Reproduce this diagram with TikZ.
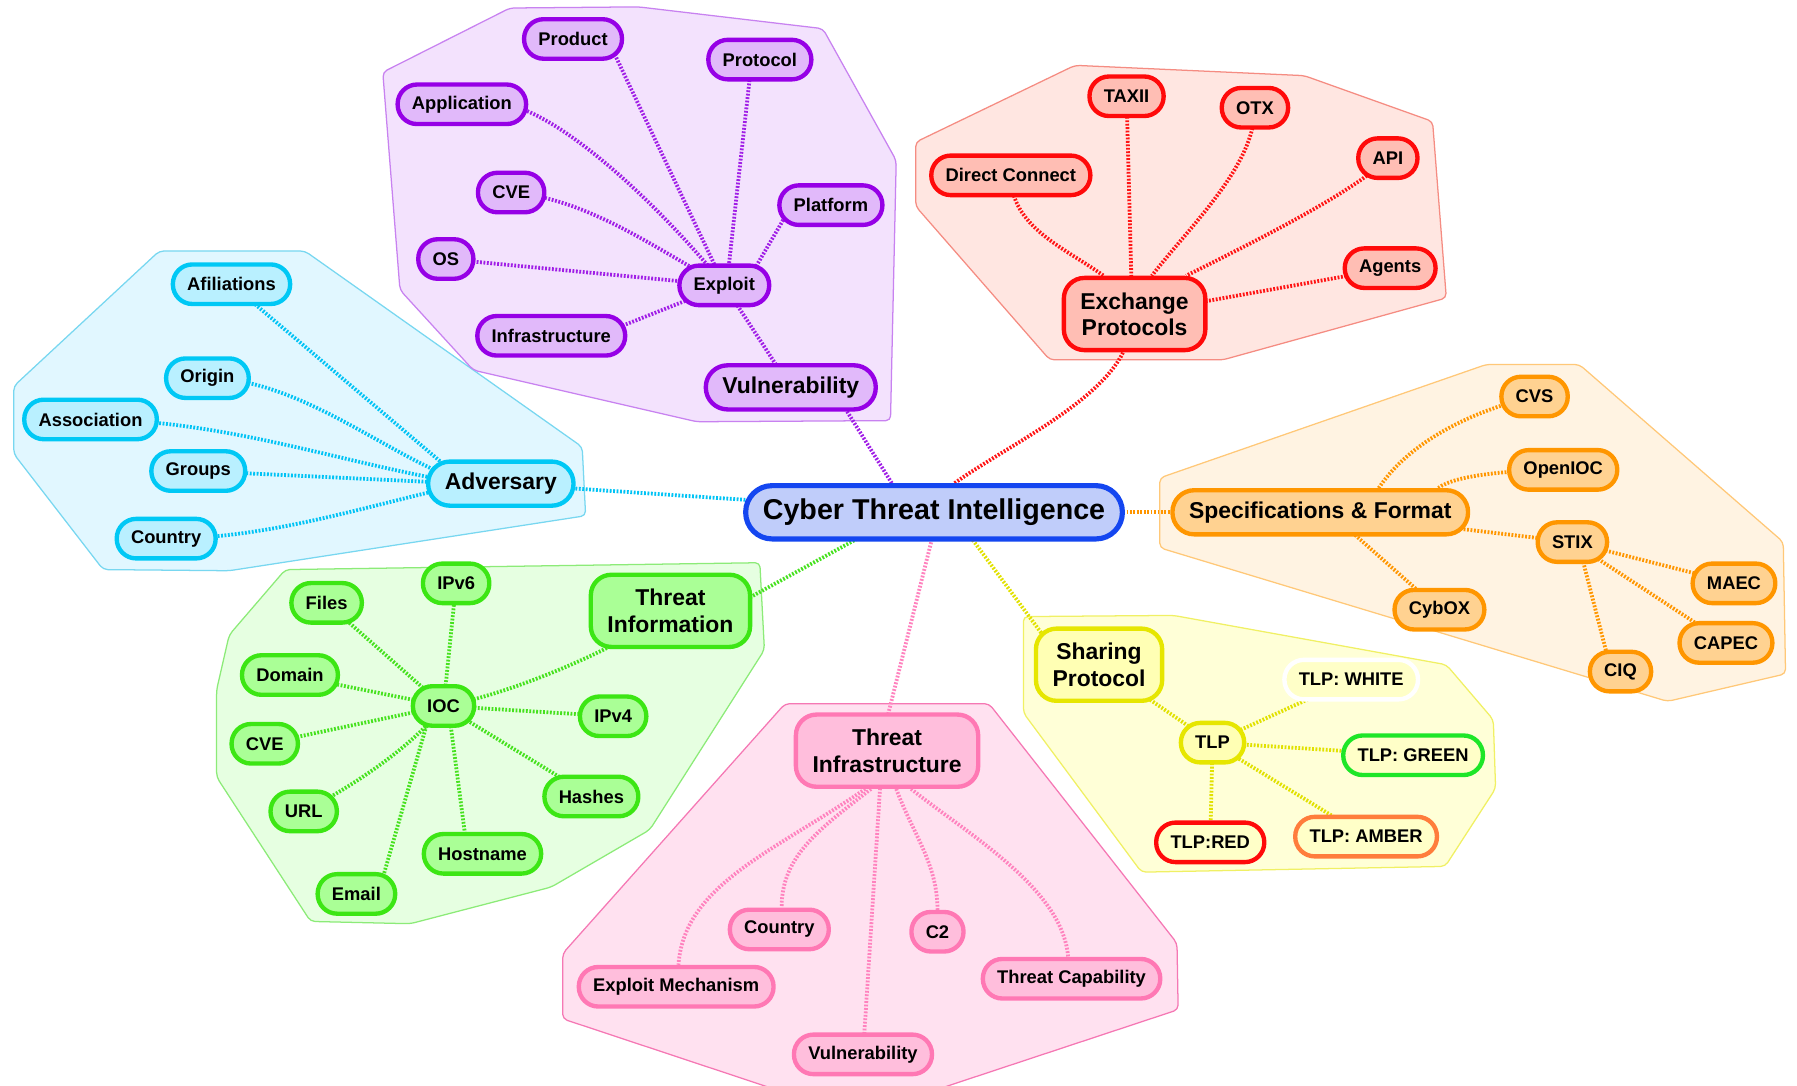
\documentclass[tikz,border=0pt]{standalone}
\usepackage{fontspec}
\setmainfont{Liberation Sans}
\usetikzlibrary{calc}
\pgfdeclarelayer{hull}
\pgfdeclarelayer{edges}
\pgfsetlayers{hull,edges,main}
% node fills / borders / hulls / edges
\definecolor{ctF}{RGB}{192,205,250}\definecolor{ctD}{RGB}{20,70,240}
\definecolor{cyF}{RGB}{185,240,255}\definecolor{cyD}{RGB}{0,200,245}\definecolor{cyH}{RGB}{225,247,255}\definecolor{cyL}{RGB}{120,215,240}\definecolor{cyE}{RGB}{0,195,245}
\definecolor{puF}{RGB}{225,185,250}\definecolor{puD}{RGB}{150,0,230}\definecolor{puH}{RGB}{243,226,253}\definecolor{puL}{RGB}{200,130,240}\definecolor{puE}{RGB}{160,30,230}
\definecolor{rdF}{RGB}{255,190,180}\definecolor{rdD}{RGB}{255,10,10}\definecolor{rdH}{RGB}{255,230,225}\definecolor{rdL}{RGB}{245,140,130}\definecolor{rdE}{RGB}{255,20,20}
\definecolor{orF}{RGB}{255,210,145}\definecolor{orD}{RGB}{255,150,0}\definecolor{orH}{RGB}{255,243,226}\definecolor{orL}{RGB}{255,200,120}\definecolor{orE}{RGB}{255,150,0}
\definecolor{yeF}{RGB}{255,255,180}\definecolor{yeD}{RGB}{230,230,0}\definecolor{yeH}{RGB}{255,255,215}\definecolor{yeL}{RGB}{240,240,100}\definecolor{yeE}{RGB}{225,225,0}
\definecolor{grF}{RGB}{170,255,150}\definecolor{grD}{RGB}{60,230,20}\definecolor{grH}{RGB}{230,255,225}\definecolor{grL}{RGB}{140,235,120}\definecolor{grE}{RGB}{70,225,30}
\definecolor{piF}{RGB}{255,190,220}\definecolor{piD}{RGB}{255,120,180}\definecolor{piH}{RGB}{255,225,240}\definecolor{piL}{RGB}{245,120,180}\definecolor{piE}{RGB}{255,130,190}
\definecolor{tlpF}{RGB}{255,255,200}\definecolor{amD}{RGB}{255,125,60}\definecolor{tgD}{RGB}{30,230,40}
\tikzset{
  nd/.style={rounded corners=#1, line width=3.8pt, align=center, inner ysep=0pt,
             font=\bfseries\fontsize{16}{19}\selectfont},
  leaf/.style={nd=17pt, inner xsep=12.5pt, minimum height=34.5pt},
  lone/.style={nd=19pt, inner xsep=14.5pt, minimum height=38.5pt, font=\bfseries\fontsize{20}{23}\selectfont},
  ltwo/.style={nd=18pt, inner xsep=14.5pt, minimum height=63pt, font=\bfseries\fontsize{20}{23}\selectfont},
  cy/.style={draw=cyD, fill=cyF}, pu/.style={draw=puD, fill=puF}, rd/.style={draw=rdD, fill=rdF},
  or/.style={draw=orD, fill=orF}, ye/.style={draw=yeD, fill=yeF}, gr/.style={draw=grD, fill=grF},
  pi/.style={draw=piD, fill=piF},
  hullbox/.style={line width=1.1pt, rounded corners=4pt},
  conn/.style={line width=3.3pt, dash pattern=on 1.6pt off 1.4pt},
}
\begin{document}
\begin{tikzpicture}[x=1pt,y=-1pt]
\useasboundingbox (0,0) rectangle (1568,947);
% ---------------- nodes ----------------
\node[nd=23pt, inner xsep=15pt, minimum height=46.5pt, line width=4.5pt,
      font=\bfseries\fontsize{25}{30}\selectfont, draw=ctD, fill=ctF] (ct) at (815,447) {Cyber Threat Intelligence};
% adversary
\node[lone,cy] (adv) at (437,422) {Adversary};
\node[leaf,cy] (afil) at (202,248) {Afiliations};
\node[leaf,cy] (orig) at (181,330) {Origin};
\node[leaf,cy] (assoc) at (79,366) {Association};
\node[leaf,cy] (grp) at (173,411) {Groups};
\node[leaf,cy] (ctry) at (145,470) {Country};
% vulnerability
\node[lone,pu] (vul) at (690,338) {Vulnerability};
\node[leaf,pu] (expl) at (632,249) {Exploit};
\node[leaf,pu] (prod) at (500,34) {Product};
\node[leaf,pu] (prot) at (663,52) {Protocol};
\node[leaf,pu] (app) at (403,91) {Application};
\node[leaf,pu] (cvep) at (446,168) {CVE};
\node[leaf,pu] (plat) at (725,179) {Platform};
\node[leaf,pu] (os) at (389,226) {OS};
\node[leaf,pu] (infr) at (481,293) {Infrastructure};
% exchange
\node[ltwo,rd] (exch) at (990,274) {Exchange\\Protocols};
\node[leaf,rd] (taxii) at (983,84) {TAXII};
\node[leaf,rd] (otx) at (1095,94) {OTX};
\node[leaf,rd] (dc) at (882,153) {Direct Connect};
\node[leaf,rd] (api) at (1211,138) {API};
\node[leaf,rd] (agents) at (1213,234) {Agents};
% specifications
\node[lone,or] (spec) at (1152,447) {Specifications \& Format};
\node[leaf,or] (cvs) at (1339,346) {CVS};
\node[leaf,or] (oioc) at (1364,410) {OpenIOC};
\node[leaf,or] (stix) at (1372,473) {STIX};
\node[leaf,or] (maec) at (1513,509) {MAEC};
\node[leaf,or] (cybox) at (1256,532) {CybOX};
\node[leaf,or] (capec) at (1506,561) {CAPEC};
\node[leaf,or] (ciq) at (1414,586) {CIQ};
% sharing
\node[ltwo,ye] (share) at (959,580) {Sharing\\Protocol};
\node[leaf,ye] (tlp) at (1058,648) {TLP};
\node[leaf,draw=white,fill=tlpF] (white) at (1179,593) {TLP: WHITE};
\node[leaf,draw=tgD,fill=tlpF] (green) at (1233,659) {TLP: GREEN};
\node[leaf,draw=rdD,fill=tlpF] (red) at (1056,735) {TLP:RED};
\node[leaf,draw=amD,fill=tlpF] (amber) at (1192,730) {TLP: AMBER};
% threat information
\node[ltwo,gr] (tinfo) at (585,533) {Threat\\Information};
\node[leaf,gr] (ioc) at (387,616) {IOC};
\node[leaf,gr] (files) at (285,526) {Files};
\node[leaf,gr] (ipv6) at (398,509) {IPv6};
\node[leaf,gr] (domain) at (253,589) {Domain};
\node[leaf,gr] (ipv4) at (535,625) {IPv4};
\node[leaf,gr] (cveg) at (231,649) {CVE};
\node[leaf,gr] (url) at (265,708) {URL};
\node[leaf,gr] (hashes) at (516,695) {Hashes};
\node[leaf,gr] (host) at (421,745) {Hostname};
\node[leaf,gr] (email) at (311,780) {Email};
% threat infrastructure
\node[ltwo,pi] (tinf) at (774,655) {Threat\\Infrastructure};
\node[leaf,pi] (pctry) at (680,811) {Country};
\node[leaf,pi] (c2) at (818,813) {C2};
\node[leaf,pi] (em) at (590,861) {Exploit Mechanism};
\node[leaf,pi] (tcap) at (935,854) {Threat Capability};
\node[leaf,pi] (pvul) at (753,920) {Vulnerability};
% ---------------- hulls ----------------
\begin{pgfonlayer}{hull}
\begin{scope}
\clip (0,0) rectangle (1568,947);
\filldraw[hullbox, fill=cyH, draw=cyL] (139,219) -- (266,219) -- (508,390) -- (511,450) -- (200,498) -- (90,497) -- (12,396) -- (12,337) -- cycle;
\filldraw[hullbox, fill=puH, draw=puL] (334,63) -- (445,7) -- (557,6) -- (718,25) -- (782,140) -- (777,367) -- (608,368) -- (413,323) -- (349,253) -- cycle;
\filldraw[hullbox, fill=rdH, draw=rdL] (799,124) -- (938,57) -- (1138,66) -- (1250,106) -- (1262,260) -- (1067,314) -- (916,314) -- (799,180) -- cycle;
\filldraw[hullbox, fill=orH, draw=orL] (1012,417) -- (1297,318) -- (1378,318) -- (1556,473) -- (1558,588) -- (1455,612) -- (1012,478) -- cycle;
\filldraw[hullbox, fill=yeH, draw=yeL] (893,538) -- (1024,537) -- (1262,580) -- (1303,628) -- (1305,688) -- (1261,756) -- (996,761) -- (893,622) -- cycle;
\filldraw[hullbox, fill=grH, draw=grL] (249,497) -- (663,491) -- (667,567) -- (567,724) -- (481,774) -- (358,806) -- (271,804) -- (189,678) -- (189,602) -- (200,554) -- cycle;
\filldraw[hullbox, fill=piH, draw=piL] (685,614) -- (863,614) -- (1027,823) -- (1028,881) -- (747,974) -- (491,889) -- (491,832) -- cycle;
\end{scope}
\end{pgfonlayer}
% ---------------- connectors ----------------
\begin{pgfonlayer}{edges}
% from the centre
\draw[conn, draw=cyE] (ct.center) -- (adv.center);
\draw[conn, draw=puE] ([xshift=-21pt]ct.center) -- ([xshift=36pt]vul.center);
\draw[conn, draw=rdE] ([xshift=18pt]ct.north) .. controls +(45,-32) and +(-22,45) .. ([xshift=-10pt]exch.south);
\draw[conn, draw=orE] (ct.center) -- (spec.center);
\draw[conn, draw=yeE] ([xshift=16pt]ct.center) -- ([xshift=-30pt]share.center);
\draw[conn, draw=piE] ([xshift=4pt]ct.center) -- ([xshift=-7pt]tinf.center);
\draw[conn, draw=grE] ([xshift=-25pt]ct.center) -- ([xshift=48pt]tinfo.center);
% adversary
\draw[conn, draw=cyE] (afil.center) -- ([xshift=-30pt]adv.center);
\draw[conn, draw=cyE] (orig.center) .. controls +(80,0) and +(-70,-25) .. ([xshift=-30pt]adv.center);
\draw[conn, draw=cyE] (assoc.center) .. controls +(120,0) and +(-100,-15) .. ([xshift=-30pt]adv.center);
\draw[conn, draw=cyE] (grp.center) -- ([xshift=-30pt]adv.center);
\draw[conn, draw=cyE] (ctry.center) .. controls +(90,0) and +(-90,20) .. ([xshift=-30pt]adv.center);
% vulnerability
\draw[conn, draw=puE] ([xshift=30pt]prod.center) -- (expl.center);
\draw[conn, draw=puE] ([xshift=-7pt]prot.center) -- ([xshift=2pt]expl.center);
\draw[conn, draw=puE] ([xshift=40pt]app.center) .. controls +(60,15) and +(-40,-50) .. (expl.center);
\draw[conn, draw=puE] (cvep.center) .. controls +(70,5) and +(-50,-25) .. (expl.center);
\draw[conn, draw=puE] ([xshift=-34pt]plat.center) -- ([xshift=18pt]expl.center);
\draw[conn, draw=puE] (os.center) -- (expl.center);
\draw[conn, draw=puE] ([xshift=40pt]infr.center) -- (expl.center);
\draw[conn, draw=puE] (expl.center) -- (vul.center);
% exchange
\draw[conn, draw=rdE] (dc.center) .. controls +(0,45) and +(-35,-25) .. ([xshift=-27pt]exch.north);
\draw[conn, draw=rdE] (taxii.center) -- ([xshift=-2pt]exch.center);
\draw[conn, draw=rdE] (otx.center) .. controls +(0,50) and +(35,-45) .. ([xshift=15pt]exch.north);
\draw[conn, draw=rdE] (api.center) .. controls +(-30,30) and +(60,-30) .. ([xshift=45pt]exch.north);
\draw[conn, draw=rdE] (agents.center) -- (exch.center);
% specifications
\draw[conn, draw=orE] ([xshift=51pt]spec.north) .. controls +(30,-45) and +(-45,10) .. (cvs.center);
\draw[conn, draw=orE] ([xshift=103pt]spec.north) .. controls +(15,-12) and +(-40,0) .. (oioc.center);
\draw[conn, draw=orE] (spec.center) -- (stix.center);
\draw[conn, draw=orE] ([xshift=8pt]spec.center) -- (cybox.center);
\draw[conn, draw=orE] (stix.center) -- (maec.center);
\draw[conn, draw=orE] (stix.center) -- (capec.center);
\draw[conn, draw=orE] ([xshift=5pt]stix.center) -- ([xshift=-8pt]ciq.center);
% sharing
\draw[conn, draw=yeE] (share.center) -- (tlp.center);
\draw[conn, draw=yeE] (tlp.center) -- (white.center);
\draw[conn, draw=yeE] (tlp.center) -- (green.center);
\draw[conn, draw=yeE] (tlp.center) -- (amber.center);
\draw[conn, draw=yeE] (tlp.center) -- (red.center);
% threat information
\draw[conn, draw=grE] (ioc.center) .. controls +(60,-10) and +(-40,30) .. (tinfo.center);
\draw[conn, draw=grE] (ioc.center) -- (files.center);
\draw[conn, draw=grE] (ioc.center) -- (ipv6.center);
\draw[conn, draw=grE] (ioc.center) -- (domain.center);
\draw[conn, draw=grE] (ioc.center) -- (cveg.center);
\draw[conn, draw=grE] (ioc.center) .. controls +(-30,40) and +(30,-15) .. (url.center);
\draw[conn, draw=grE] ([xshift=-10pt]ioc.center) -- ([xshift=19pt]email.center);
\draw[conn, draw=grE] ([xshift=4pt]ioc.center) -- ([xshift=-13pt]host.center);
\draw[conn, draw=grE] (ioc.center) -- (hashes.center);
\draw[conn, draw=grE] (ioc.center) -- (ipv4.center);
% threat infrastructure
\draw[conn, draw=piE] ([xshift=-19pt]tinf.south) .. controls +(-80,55) and +(5,-70) .. ([xshift=2pt]em.north);
\draw[conn, draw=piE] ([xshift=-14pt]tinf.south) .. controls +(-45,35) and +(0,-45) .. ([xshift=2pt]pctry.north);
\draw[conn, draw=piE] ([xshift=-4pt]tinf.center) -- (pvul.center);
\draw[conn, draw=piE] ([xshift=8pt]tinf.south) .. controls +(15,40) and +(0,-40) .. (c2.north);
\draw[conn, draw=piE] ([xshift=21pt]tinf.south) .. controls +(50,40) and +(-5,-60) .. ([xshift=-3pt]tcap.north);
\end{pgfonlayer}
\end{tikzpicture}
\end{document}
